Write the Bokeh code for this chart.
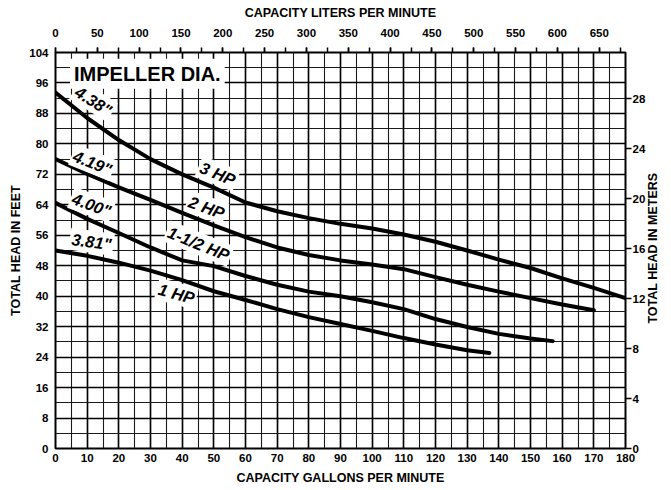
import math
from bokeh.plotting import figure
from bokeh.models import Range1d, LinearAxis, SingleIntervalTicker, FixedTicker, ColumnDataSource
from bokeh.core.properties import value
from bokeh.embed import file_html
from bokeh.resources import INLINE

# ---- data ----
gpm_3hp = [0, 10, 20, 30, 40, 50, 60, 70, 80, 90, 100, 110, 120, 130, 140, 150, 160, 170, 180]
head_3hp = [93.5, 86.8, 81.0, 76.0, 72.0, 68.5, 64.6, 62.3, 60.5, 59.0, 57.8, 56.2, 54.3, 52.0, 49.6, 47.4, 44.7, 42.2, 39.5]

gpm_2hp = [0, 10, 20, 30, 40, 50, 60, 70, 80, 90, 100, 110, 120, 130, 140, 150, 160, 170]
head_2hp = [76.0, 72.1, 68.6, 65.3, 61.9, 58.6, 55.5, 52.8, 50.8, 49.4, 48.3, 47.1, 45.0, 43.0, 41.2, 39.5, 37.8, 36.3]

gpm_15hp = [0, 10, 20, 30, 40, 50, 60, 70, 80, 90, 100, 110, 120, 130, 140, 150, 157]
head_15hp = [64.5, 60.3, 56.6, 52.8, 49.4, 47.9, 45.3, 43.0, 41.2, 40.0, 38.4, 36.6, 34.0, 31.9, 30.1, 28.9, 28.2]

gpm_1hp = [0, 10, 20, 30, 40, 50, 60, 70, 80, 90, 100, 110, 120, 130, 137]
head_1hp = [52.0, 50.6, 48.8, 46.7, 44.2, 41.3, 39.0, 36.6, 34.5, 32.7, 30.9, 29.0, 27.3, 25.8, 25.1]

curve_labels = ['4.38"', '4.19"', '4.00"', '3.81"', "3 HP", "2 HP", "1-1/2 HP", "1 HP"]

GAL_TO_L = 3.78541
FT_TO_M = 0.3048

p = figure(width=671, height=490, x_range=Range1d(0, 180), y_range=Range1d(0, 104),
           output_backend="svg", toolbar_location=None,
           min_border_left=55, min_border_right=46, min_border_top=52, min_border_bottom=42,
           background_fill_color="white", border_fill_color="white")

p.outline_line_color = "black"
p.outline_line_width = 2

p.extra_x_ranges = {"lpm": Range1d(0, 180 * GAL_TO_L)}
p.extra_y_ranges = {"m": Range1d(0, 104 * FT_TO_M)}

FONT = "Liberation Sans"
LABEL_SIZE = "12.5px"

def style_axis(ax, tick_out=0, minor_out=0, standoff=5, label_standoff=6):
    ax.axis_line_color = None
    ax.major_tick_out = tick_out
    ax.major_tick_in = 0
    ax.minor_tick_out = minor_out
    ax.minor_tick_in = 0
    ax.major_tick_line_color = "black"
    ax.minor_tick_line_color = "black"
    ax.major_tick_line_width = 1.5
    ax.minor_tick_line_width = 1.5
    ax.major_label_text_font = FONT
    ax.major_label_text_font_style = "bold"
    ax.major_label_text_font_size = "11.5px"
    ax.major_label_text_color = "black"
    ax.major_label_standoff = standoff
    ax.axis_label_text_font = FONT
    ax.axis_label_text_font_style = "bold"
    ax.axis_label_text_font_size = LABEL_SIZE
    ax.axis_label_text_color = "black"
    ax.axis_label_standoff = label_standoff

# bottom axis (gallons)
xax = p.xaxis[0]
xax.ticker = SingleIntervalTicker(interval=10, num_minor_ticks=2)
xax.axis_label = "CAPACITY GALLONS PER MINUTE"
style_axis(xax, standoff=5, label_standoff=6)

# left axis (feet)
yax = p.yaxis[0]
yax.ticker = SingleIntervalTicker(interval=8, num_minor_ticks=2)
yax.axis_label = "TOTAL HEAD IN FEET"
style_axis(yax, standoff=7, label_standoff=3)

# top axis (liters)
top = LinearAxis(x_range_name="lpm", ticker=SingleIntervalTicker(interval=50, num_minor_ticks=2),
                 axis_label="CAPACITY LITERS PER MINUTE")
style_axis(top, tick_out=5, minor_out=5, standoff=11, label_standoff=6)
p.add_layout(top, "above")

# right axis (meters) - ticks and numbers
right = LinearAxis(y_range_name="m", ticker=SingleIntervalTicker(interval=4, num_minor_ticks=2))
style_axis(right, tick_out=6, minor_out=0, standoff=1)
p.add_layout(right, "right")

# right axis title as a rotated label reading bottom-to-top, as in the original
right_title = LinearAxis(y_range_name="m", ticker=FixedTicker(ticks=[10]),
                         major_label_overrides={10: "TOTAL HEAD IN METERS"})
style_axis(right_title, tick_out=0, minor_out=0, standoff=5)
right_title.major_tick_line_color = None
right_title.major_label_text_font_size = LABEL_SIZE
right_title.major_label_orientation = math.pi / 2
p.add_layout(right_title, "right")

# grid
for g in (p.xgrid[0], p.ygrid[0]):
    g.grid_line_color = "black"
    g.grid_line_width = 1.6
    g.minor_grid_line_color = "#1a1a1a"
    g.minor_grid_line_width = 1.1

# curves
for gx, hy in ((gpm_3hp, head_3hp), (gpm_2hp, head_2hp), (gpm_15hp, head_15hp), (gpm_1hp, head_1hp)):
    p.line(gx, hy, line_color="black", line_width=4, line_join="round", line_cap="round")

# labels (positions in data coords)
lab_src = ColumnDataSource(dict(
    x=[12.0, 11.7, 11.4, 11.4, 51.2, 47.7, 45.2, 38.2],
    y=[91.3, 75.1, 64.0, 54.3, 72.2, 63.3, 53.8, 40.7],
    text=curve_labels,
    angle=[-32, -22, -20, -8, -22, -20, -22, -15],
))
p.text(x="x", y="y", text="text", angle="angle", angle_units="deg", source=lab_src,
       text_font=value(FONT), text_font_style="bold italic", text_font_size="16.5px",
       text_align="center", text_baseline="middle", text_color="black",
       background_fill_color="white", padding=2)

p.text(x=[29.0], y=[98.4], text=["IMPELLER DIA."],
       text_font=value(FONT), text_font_style="bold", text_font_size="20px",
       text_align="center", text_baseline="middle", text_color="black",
       background_fill_color="white", padding=4)

open("out.html", "w").write(file_html(p, INLINE))
